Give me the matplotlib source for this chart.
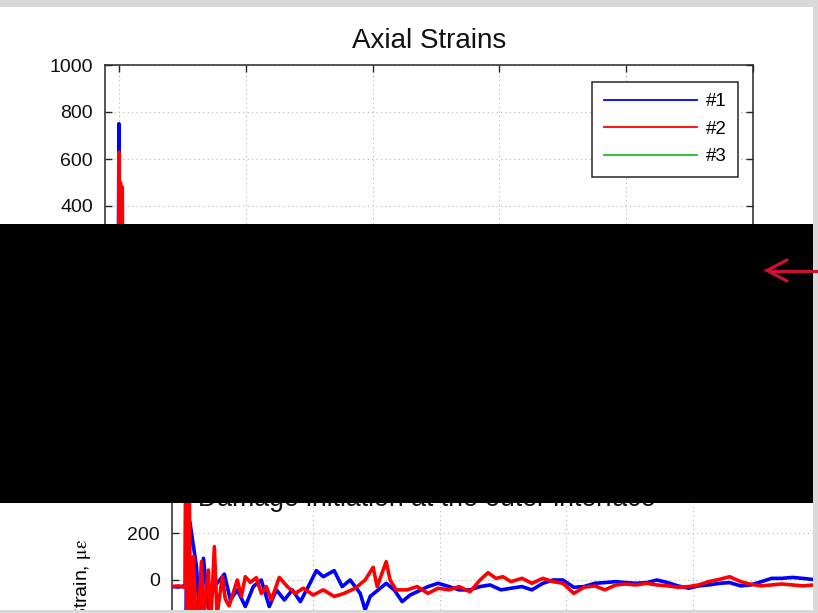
import numpy as np
import matplotlib
matplotlib.use("Agg")
import matplotlib.pyplot as plt
from matplotlib.lines import Line2D
from matplotlib.patches import Rectangle

plt.rcParams["font.family"] = ["Liberation Sans", "DejaVu Sans"]
plt.rcParams["mathtext.fontset"] = "stix"

# ---- strain gauge records (time in s, strain in microstrain) ----
t_g1 = [-0.11, -0.06, -0.02, -0.006, 0.0, 0.004, 0.012, 0.02, 0.03,
        0.083, 0.106, 0.138, 0.177, 0.224, 0.303, 0.35, 0.405, 0.468, 0.531,
        0.594, 0.657, 0.713, 0.776, 0.839, 0.902, 0.965, 1.028, 1.083, 1.169,
        1.232, 1.295, 1.374, 1.413, 1.453, 1.516, 1.579, 1.642, 1.705, 1.768,
        1.823, 1.909, 1.988, 2.075, 2.154, 2.24, 2.319, 2.398, 2.484, 2.563,
        2.65, 2.728, 2.815, 2.894, 2.972, 3.059, 3.138, 3.224, 3.303, 3.39,
        3.468, 3.547, 3.634, 3.713, 3.799, 3.878, 3.965, 4.043, 4.122, 4.209,
        4.287, 4.374, 4.453, 4.539, 4.618, 4.697, 4.783, 4.862, 4.98, 5.0]
gauge1 = [-28, -30, -26, -28, 750, -150, 300, -200, 250,
          57, -150, 92, -120, -28, 25, -85, -42, -113, -28,
          0, -113, -42, -85, -42, -92, -28, 40, 14, 40,
          -28, 0, -57, -127, -70, -42, -14, -42, -92, -64,
          -50, -28, -14, -28, -42, -42, -28, -21, -42, -35,
          -28, -42, -14, 0, 0, -31, -28, -14, -11, -7,
          -11, -14, -11, 0, -11, -25, -35, -25, -21, -14,
          -11, -25, -21, -7, 7, 7, 11, 7, 0, 0]

t_g2 = [-0.11, -0.06, -0.02, -0.004, 0.0, 0.006, 0.012, 0.02, 0.026, 0.034,
        0.048, 0.059, 0.08, 0.10, 0.122, 0.14, 0.155, 0.177, 0.195, 0.224,
        0.245, 0.287, 0.31, 0.34, 0.37, 0.405, 0.437, 0.468, 0.508, 0.555,
        0.594, 0.634, 0.673, 0.736, 0.799, 0.862, 0.925, 1.004, 1.083, 1.169,
        1.248, 1.335, 1.413, 1.476, 1.508, 1.579, 1.61, 1.657, 1.744, 1.823,
        1.909, 1.988, 2.075, 2.154, 2.24, 2.319, 2.382, 2.445, 2.5, 2.563,
        2.65, 2.728, 2.815, 2.894, 2.972, 3.059, 3.138, 3.224, 3.303, 3.39,
        3.468, 3.547, 3.634, 3.713, 3.799, 3.878, 3.965, 4.043, 4.122, 4.209,
        4.287, 4.374, 4.453, 4.539, 4.618, 4.697, 4.783, 4.862, 4.98, 5.0]
gauge2 = [-28, -25, -30, -28, 630, -150, 500, -200, 480, -250,
          -180, 100, -200, -150, 78, -180, -60, 42, -200, 142,
          -150, 14, -80, -110, -60, 0, -70, 14, -10, 10,
          -57, -28, -85, 11, -28, -57, -35, -64, -42, -70,
          -57, -35, 0, 54, -28, 78, 0, -42, -42, -28,
          -57, -35, -42, -28, -50, 0, 31, 7, 14, -7,
          7, -14, 7, -7, -14, -57, -31, -25, -42, -21,
          -17, -21, -14, -21, -25, -31, -28, -21, -7, 3,
          14, -7, -18, -25, -21, -17, -21, -25, -20, -20]

t_g3 = [-0.11, 0.0, 0.5, 1.0, 1.5, 2.0, 2.5, 3.0, 3.5, 4.0, 4.5, 5.0]
gauge3 = [-340, -360, -410, -395, -380, -372, -366, -360, -356, -352, -350, -348]

labels = ["#1", "#2", "#3"]
colors = ["#0000ff", "#ff0000", "#22c022"]
time_ticks = [0, 1, 2, 3, 4, 5]

W, H = 818, 613
fig = plt.figure(figsize=(W / 100, H / 100), dpi=100)
fig.patch.set_facecolor("white")


def fx(px):
    return px / W


def fy(py):
    return 1 - py / H


def axes_box(left, top, right, bottom):
    return fig.add_axes([fx(left), fy(bottom), (right - left) / W, (bottom - top) / H])


def strain_panel(ax, ymin, legend_top_px, top_px, bottom_px):
    ax.plot(t_g3, gauge3, color=colors[2], lw=2.6, label=labels[2], zorder=2)
    ax.plot(t_g1, gauge1, color=colors[0], lw=2.6, label=labels[0], zorder=3)
    ax.plot(t_g2, gauge2, color=colors[1], lw=2.6, label=labels[1], zorder=4)
    ax.set_xlim(-0.11, 5)
    ax.set_ylim(ymin, 1000)
    ax.set_xticks(time_ticks)
    ax.set_yticks(list(range(ymin, 1001, 200)))
    ax.grid(True, color="#b4b4b4", linestyle=(0, (1, 3)), linewidth=0.8)
    ax.set_axisbelow(True)
    ax.tick_params(direction="in", top=True, right=True, length=5, width=1,
                   labelsize=14, pad=8.6, colors="#262626", labelcolor="#111111")
    for s in ax.spines.values():
        s.set_color("#262626")
        s.set_linewidth(1.1)
    ax.set_title("Axial Strains", fontsize=20, pad=12, color="#111111")
    h, l = ax.get_legend_handles_labels()
    order = [1, 2, 0]
    leg = ax.legend([h[i] for i in order], [l[i] for i in order], loc="upper right",
                    bbox_to_anchor=(633 / 648, (bottom_px - legend_top_px) / (bottom_px - top_px)),
                    borderaxespad=0, fontsize=13.5, handlelength=4.95,
                    handletextpad=0.5, labelspacing=0.55, borderpad=0.6,
                    fancybox=False, framealpha=1, edgecolor="#262626")
    leg.get_frame().set_linewidth(1.1)
    for ln in leg.get_lines():
        ln.set_linewidth(1.3)


# upper copy of the plot
ax_top = axes_box(105, 65, 753, 441)
strain_panel(ax_top, -600, 82, 65, 441)
# its caption sits below the tick labels, centred on the axes
fig.text(fx(427), fy(506), "Damage initiation at the outer interface", fontsize=19.2,
         ha="center", va="baseline", color="#111111", zorder=5)

# lower copy of the plot
ax_bot = axes_box(172, 345, 820, 815)
strain_panel(ax_bot, -1000, 362, 345, 815)
ax_bot.set_xlabel("Time, s", fontsize=14)
ax_bot.set_ylabel(r"Strain, $\mathrm{\mu\varepsilon}$", fontsize=14)
ax_bot.yaxis.set_label_coords(-0.122, 0.5)

# redaction bar
fig.add_artist(Rectangle((0, fy(503)), fx(813), (503 - 224) / H,
                         transform=fig.transFigure, facecolor="black",
                         edgecolor="none", zorder=10))

# slide border
for (x0, y0, x1, y1) in [(0, 0, 818, 7), (813, 0, 818, 613), (0, 610, 818, 613)]:
    fig.add_artist(Rectangle((fx(x0), fy(y1)), (x1 - x0) / W, (y1 - y0) / H,
                             transform=fig.transFigure, facecolor="#d9d9d9",
                             edgecolor="none", zorder=12))

# pointer arrow
arrow_red = "#cc1136"
fig.add_artist(Line2D([fx(818), fx(768)], [fy(270.5), fy(270.5)], color=arrow_red,
                      lw=2.3, solid_capstyle="butt", transform=fig.transFigure, zorder=13))
fig.add_artist(Line2D([fx(787), fx(767), fx(787)], [fy(260), fy(270.5), fy(281)],
                      color=arrow_red, lw=2.3, solid_capstyle="round",
                      solid_joinstyle="miter", transform=fig.transFigure, zorder=13))

fig.savefig("out.png", dpi=100, facecolor="white")
